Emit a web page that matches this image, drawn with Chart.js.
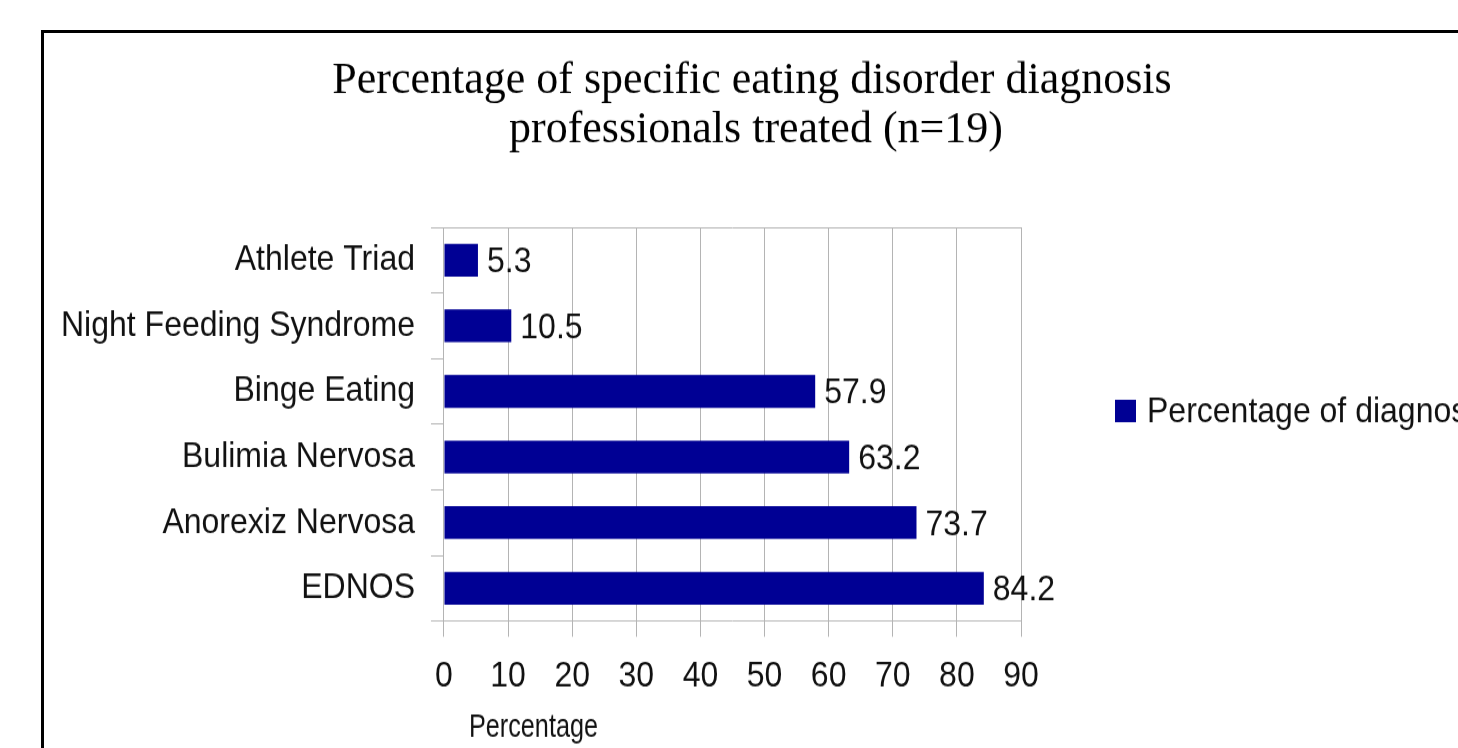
<!DOCTYPE html>
<html>
<head>
<meta charset="utf-8">
<script src="https://cdn.jsdelivr.net/npm/chart.js@4/dist/chart.umd.min.js"></script>
<style>
  html, body { margin: 0; padding: 0; background: #fff; overflow: hidden; }
  #frame {
    position: absolute; left: 41px; top: 30px;
    width: 2000px; height: 1000px;
    border-left: 3px solid #000; border-top: 3px solid #000;
  }
  /* the drawing is stretched a little vertically so the lettering reads tall and narrow */
  #wrap {
    position: absolute; left: 0; top: 0; width: 1458px; height: 668px;
    transform: scaleY(1.1198); transform-origin: 0 0;
  }
</style>
</head>
<body>
<div id="frame"></div>
<div id="wrap"><canvas id="myChart" width="1458" height="668"></canvas></div>
<script>
var titleLines = ['Percentage of specific eating disorder diagnosis', 'professionals treated (n=19)'];
var categories = ['Athlete Triad', 'Night Feeding Syndrome', 'Binge Eating', 'Bulimia Nervosa', 'Anorexiz Nervosa', 'EDNOS'];
var percentages = [5.3, 10.5, 57.9, 63.2, 73.7, 84.2];
var seriesName = 'Percentage of diagnosis';
var axisTitle = 'Percentage';
var axisMin = 0, axisMax = 90, axisStep = 10;

var sans = '"Liberation Sans", Arial, sans-serif';
var serif = '"Liberation Serif", "Times New Roman", serif';
var barColor = '#000094';
var gridGray = '#b4b4b4';

// title, value labels, axis caption and the legend key
var extras = {
  id: 'extras',
  afterDatasetsDraw: function(chart) {
    var ctx = chart.ctx;
    var area = chart.chartArea;
    var ds = chart.data.datasets[0];

    // serif title is squashed back so it keeps its normal proportions
    ctx.save();
    ctx.scale(1, 0.92);
    ctx.fillStyle = '#000';
    ctx.font = '44px ' + serif;
    ctx.textAlign = 'center';
    ctx.textBaseline = 'alphabetic';
    ctx.fillText(titleLines[0], 752, 83 / 0.92);
    ctx.fillText(titleLines[1], 756, 126.8 / 0.92);
    ctx.restore();

    ctx.save();
    ctx.fillStyle = '#111';
    ctx.font = '32px ' + sans;
    ctx.textAlign = 'left';
    ctx.textBaseline = 'middle';
    chart.getDatasetMeta(0).data.forEach(function(bar, i) {
      ctx.fillText(String(ds.data[i]), bar.x + 9, bar.y + 2);
    });

    ctx.font = '30px ' + sans;
    ctx.textBaseline = 'alphabetic';
    ctx.fillText(axisTitle, area.left + 25, 658, 129);

    ctx.fillStyle = ds.backgroundColor;
    ctx.fillRect(1115, 357, 21, 20);
    ctx.fillStyle = '#111';
    ctx.font = '32px ' + sans;
    ctx.textBaseline = 'middle';
    ctx.fillText(ds.label, 1147, 368);
    ctx.restore();
  }
};

document.addEventListener('DOMContentLoaded', function() {
  var ctx = document.getElementById('myChart').getContext('2d');
  new Chart(ctx, {
    type: 'bar',
    data: {
      labels: categories,
      datasets: [{
        label: seriesName,
        data: percentages,
        backgroundColor: barColor,
        borderWidth: 0,
        barPercentage: 0.5,
        categoryPercentage: 1
      }]
    },
    options: {
      indexAxis: 'y',
      responsive: false,
      animation: false,
      layout: { padding: { top: 203, left: 45, right: 437, bottom: 29 } },
      plugins: {
        legend: { display: false },
        title: { display: false },
        tooltip: { enabled: false }
      },
      scales: {
        x: {
          min: axisMin,
          max: axisMax,
          ticks: {
            stepSize: axisStep,
            padding: 16,
            color: '#111',
            font: { family: sans, size: 32 }
          },
          grid: { color: gridGray, tickLength: 14, lineWidth: 1 },
          border: { color: gridGray }
        },
        y: {
          ticks: {
            padding: 16,
            color: '#111',
            font: { family: sans, size: 32 }
          },
          grid: {
            offset: true,
            tickLength: 13,
            color: function(c) { return c.index === 0 ? gridGray : 'rgba(0,0,0,0)'; },
            tickColor: gridGray
          },
          border: { color: gridGray }
        }
      }
    },
    plugins: [extras]
  });
});
</script>
</body>
</html>
